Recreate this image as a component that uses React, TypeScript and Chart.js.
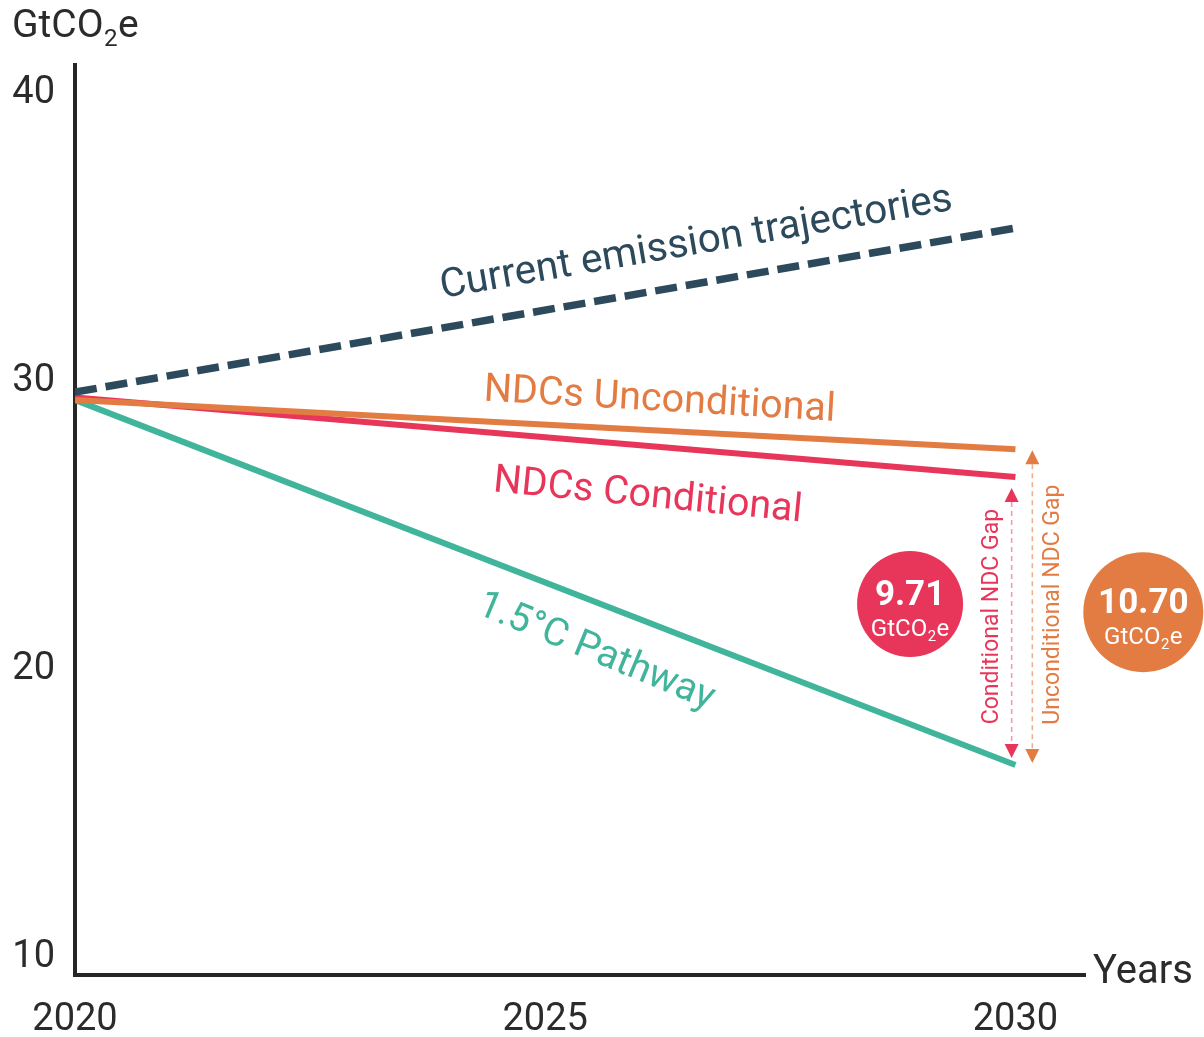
import React, { useEffect, useRef } from "react";
import { Chart, registerables } from "chart.js";
Chart.register(...registerables);

// ---- data ----
const years = [2020, 2030];
const currentTrajectory = [29.64, 35.34];
const ndcUnconditional = [29.37, 27.66];
const ndcConditional = [29.45, 26.69];
const pathway15 = [29.37, 16.69];
const yTicks = [10, 20, 30, 40];
const xTicks = [2020, 2025, 2030];
const conditionalGapValue = "9.71";
const unconditionalGapValue = "10.70";

const FONT = "Roboto, 'Noto Sans', sans-serif";
const C_DARK = "#2c4a5b";
const C_ORANGE = "#e27c42";
const C_RED = "#e8365b";
const C_TEAL = "#40b59b";
const C_AXIS = "#262626";
const C_TEXT = "#2b2b2b";

function drawUnit(ctx: CanvasRenderingContext2D, x: number, y: number, size: number, color: string, align: "left" | "center", weight = "400") {
  const sub = size * 0.62;
  ctx.save();
  ctx.fillStyle = color;
  ctx.textBaseline = "alphabetic";
  ctx.textAlign = "left";
  ctx.font = `${weight} ${size}px ${FONT}`;
  const w1 = ctx.measureText("GtCO").width;
  const w3 = ctx.measureText("e").width;
  ctx.font = `${weight} ${sub}px ${FONT}`;
  const w2 = ctx.measureText("2").width;
  const total = w1 + w2 + w3 + 1;
  const sx = align === "center" ? x - total / 2 : x;
  ctx.font = `${weight} ${size}px ${FONT}`;
  ctx.fillText("GtCO", sx, y);
  ctx.font = `${weight} ${sub}px ${FONT}`;
  ctx.fillText("2", sx + w1 + 0.5, y + size * 0.22);
  ctx.font = `${weight} ${size}px ${FONT}`;
  ctx.fillText("e", sx + w1 + w2 + 1, y);
  ctx.restore();
}

function rotText(ctx: CanvasRenderingContext2D, text: string, x: number, y: number, deg: number, size: number, color: string, align: CanvasTextAlign = "left", baseline: CanvasTextBaseline = "alphabetic") {
  ctx.save();
  ctx.translate(x, y);
  ctx.rotate((deg * Math.PI) / 180);
  ctx.font = `400 ${size}px ${FONT}`;
  ctx.fillStyle = color;
  ctx.textAlign = align;
  ctx.textBaseline = baseline;
  ctx.fillText(text, 0, 0);
  ctx.restore();
}

function arrow(ctx: CanvasRenderingContext2D, x: number, yTop: number, yBot: number, color: string, lineColor: string) {
  const hl = 14, hw = 7;
  ctx.save();
  ctx.strokeStyle = lineColor;
  ctx.lineWidth = 1.6;
  ctx.setLineDash([5, 4]);
  ctx.beginPath();
  ctx.moveTo(x, yTop + hl);
  ctx.lineTo(x, yBot - hl);
  ctx.stroke();
  ctx.setLineDash([]);
  ctx.fillStyle = color;
  ctx.beginPath();
  ctx.moveTo(x, yTop);
  ctx.lineTo(x - hw, yTop + hl);
  ctx.lineTo(x + hw, yTop + hl);
  ctx.closePath();
  ctx.fill();
  ctx.beginPath();
  ctx.moveTo(x, yBot);
  ctx.lineTo(x - hw, yBot - hl);
  ctx.lineTo(x + hw, yBot - hl);
  ctx.closePath();
  ctx.fill();
  ctx.restore();
}

const annotations = {
  id: "annotations",
  afterDraw(chart: any) {
    const ctx: CanvasRenderingContext2D = chart.ctx;
    const xs = chart.scales.x;
    const ys = chart.scales.y;
    const px = (v: number) => xs.getPixelForValue(v);
    const py = (v: number) => ys.getPixelForValue(v);

    // axis titles
    drawUnit(ctx, 12, 37, 39, C_TEXT, "left");
    ctx.save();
    ctx.font = `400 40px ${FONT}`;
    ctx.fillStyle = C_TEXT;
    ctx.textBaseline = "alphabetic";
    ctx.fillText("Years", chart.chartArea.right + 8, py(9.4) + 8);
    ctx.restore();

    // series labels
    rotText(ctx, "Current emission trajectories", px(2023.904), py(32.91), -9.8, 40.5, C_DARK);
    rotText(ctx, "NDCs Unconditional", px(2024.34), py(29.35), 3.3, 39.5, C_ORANGE);
    rotText(ctx, "NDCs Conditional", px(2024.44), py(26.2), 5.6, 39.5, C_RED);
    rotText(ctx, "1.5°C Pathway", px(2024.26), py(21.97), 22.5, 39, C_TEAL);

    // gap arrows
    const xc = px(2029.96);
    const xu = px(2030.18);
    const yCondTop = py(ndcConditional[1]) + 11;
    const yUncTop = py(ndcUnconditional[1]) + 1;
    const yPath = py(pathway15[1]);
    arrow(ctx, xc, yCondTop, yPath - 7, C_RED, "#ec9fb4");
    arrow(ctx, xu, yUncTop, yPath - 2, C_ORANGE, "#eeb08c");
    rotText(ctx, "Conditional NDC Gap", xc - 19, (yCondTop + yPath) / 2 - 10, -90, 23, C_RED, "center", "middle");
    rotText(ctx, "Unconditional NDC Gap", xu + 21, (yUncTop + yPath) / 2 - 3, -90, 23, C_ORANGE, "center", "middle");

    // value circles
    const circles = [
      { x: px(2028.88), y: py(22.28), r: 53, color: C_RED, value: conditionalGapValue },
      { x: px(2031.36), y: py(22.0), r: 60, color: C_ORANGE, value: unconditionalGapValue },
    ];
    for (const c of circles) {
      ctx.save();
      ctx.fillStyle = c.color;
      ctx.beginPath();
      ctx.arc(c.x, c.y, c.r, 0, Math.PI * 2);
      ctx.fill();
      ctx.font = `700 35px ${FONT}`;
      ctx.fillStyle = "#ffffff";
      ctx.textAlign = "center";
      ctx.textBaseline = "alphabetic";
      ctx.fillText(c.value, c.x, c.y + 1);
      ctx.restore();
      drawUnit(ctx, c.x, c.y + 32, 24, "#ffffff", "center");
    }
  },
};

export default function App() {
  const ref = useRef<HTMLCanvasElement | null>(null);
  useEffect(() => {
    if (!ref.current) return;
    const pts = (arr: number[]) => years.map((x, i) => ({ x, y: arr[i] }));
    const chart = new Chart(ref.current, {
      type: "line",
      data: {
        datasets: [
          { label: "Current emission trajectories", data: pts(currentTrajectory), borderColor: C_DARK, borderWidth: 7.5, borderDash: [22, 9], pointRadius: 0, borderCapStyle: "butt", fill: false },
          { label: "NDCs Unconditional", data: pts(ndcUnconditional), borderColor: C_ORANGE, borderWidth: 6, pointRadius: 0, fill: false },
          { label: "NDCs Conditional", data: pts(ndcConditional), borderColor: C_RED, borderWidth: 6, pointRadius: 0, fill: false },
          { label: "1.5°C Pathway", data: pts(pathway15), borderColor: C_TEAL, borderWidth: 6, pointRadius: 0, fill: false },
        ],
      },
      options: {
        animation: false,
        responsive: false,
        maintainAspectRatio: false,
        layout: { padding: { top: 65, right: 119, left: 0, bottom: 0 } },
        plugins: { legend: { display: false }, tooltip: { enabled: false } },
        scales: {
          x: {
            type: "linear",
            min: 2020,
            max: 2030.74,
            afterBuildTicks: (s: any) => { s.ticks = xTicks.map((v) => ({ value: v })); },
            afterFit: (s: any) => { s.height = 62; },
            grid: { display: false, drawTicks: false },
            border: { display: true, color: C_AXIS, width: 4 },
            ticks: { font: { family: FONT, size: 38 }, color: C_TEXT, padding: 23, maxRotation: 0, autoSkip: false, callback: (v: any) => String(v) },
          },
          y: {
            type: "linear",
            min: 9.4,
            max: 41,
            afterBuildTicks: (s: any) => { s.ticks = yTicks.map((v) => ({ value: v })); },
            afterFit: (s: any) => { s.width = 75; },
            grid: { display: false, drawTicks: false },
            border: { display: true, color: C_AXIS, width: 4 },
            ticks: { font: { family: FONT, size: 38 }, color: C_TEXT, padding: 20, autoSkip: false, callback: (v: any) => String(v) },
          },
        },
      },
      plugins: [annotations],
    });
    return () => chart.destroy();
  }, []);
  return (
    <div style={{ position: "absolute", left: 0, top: 0, width: 1204, height: 1037, background: "#fff" }}>
      <canvas ref={ref} width={1204} height={1037} style={{ display: "block" }} />
    </div>
  );
}
